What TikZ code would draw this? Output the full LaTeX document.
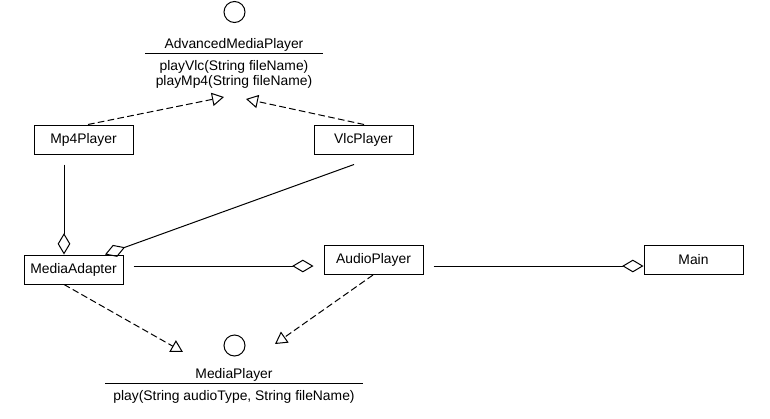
\documentclass[tikz,border=0pt]{standalone}
\usepackage{fontspec}
\setmainfont{Liberation Sans}
\usetikzlibrary{arrows.meta,calc,positioning}

\begin{document}
\begin{tikzpicture}[x=0.75pt,y=-0.75pt,
  cls/.style={rectangle,draw,line width=0.75pt,minimum width=74.25pt,minimum height=21.75pt,inner sep=0pt,font=\fontsize{10.4}{12}\selectfont},
  iface/.style={circle,draw,line width=0.75pt,minimum size=15.75pt,inner sep=0pt},
  iname/.style={anchor=base,inner sep=0pt,font=\fontsize{10.4}{12}\selectfont},
  real/.style={dash pattern=on 5pt off 2.5pt,line width=0.75pt,-{Triangle[open,length=9pt,width=10pt]}},
  agg/.style={line width=0.75pt,-{Diamond[open,length=16pt,width=9.5pt]}}
]
  \useasboundingbox (0,0) rectangle (770,418);
  \node[iface] (amp) at (234.5,12) {};
  \node[iname] (ampname) at (234,48) {AdvancedMediaPlayer};
  \node[iname] (ampvlc) at (234,70) {playVlc(String fileName)};
  \node[iname] (ampmp4) at (234,85) {playMp4(String fileName)};
  \draw[line width=0.75pt] ($(ampname.base)+(-89,5)$) -- ($(ampname.base)+(89,5)$);
  \coordinate (ampL) at (224,97);
  \coordinate (ampR) at (246,99);

  \node[cls] (mp4) at (83.5,139.5) {Mp4Player};
  \node[cls] (vlc) at (363.5,139.5) {VlcPlayer};
  \node[cls] (ma) at (73.5,269.5) {MediaAdapter};
  \node[cls] (ap) at (373.5,260) {AudioPlayer};
  \node[cls] (main) at (693.5,259.5) {Main};

  \node[iface] (mp) at (234.5,345.5) {};
  \node[iname] (mpname) at (234,378) {MediaPlayer};
  \node[iname] (mpplay) at (234,400) {play(String audioType, String fileName)};
  \draw[line width=0.75pt] ($(mpname.base)+(-129,5)$) -- ($(mpname.base)+(129,5)$);
  \coordinate (mpL) at (183,352);
  \coordinate (mpR) at (275,344);

  \draw[real] ($(mp4.north)+(4.5,0)$) -- (ampL);
  \draw[real] ($(vlc.north)+(0.5,0)$) -- (ampR);
  \draw[agg] ($(mp4.south)+(-19.5,10)$) -- ($(ma.north)+(-9.5,0)$);
  \draw[agg] ($(vlc.south)+(-9.5,10)$) -- ($(ma.north)+(31.5,0)$);
  \draw[agg] ($(ma.east)+(10,-3.5)$) -- ($(ap.west)+(-10,6)$);
  \draw[agg] ($(ap.east)+(10,6)$) -- ($(main.west)+(0,6.5)$);
  \draw[real] ($(ma.south)+(-9.5,0)$) -- (mpL);
  \draw[real] ($(ap.south)+(-0.5,0)$) -- (mpR);
\end{tikzpicture}
\end{document}
